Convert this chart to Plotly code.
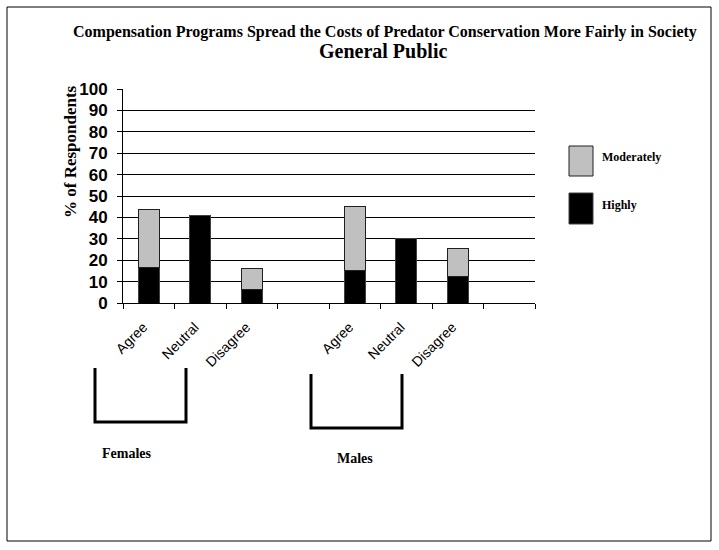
import plotly.graph_objects as go

# ---- data ----
slots = ["F-Agree", "F-Neutral", "F-Disagree", "gap1", "M-Agree", "M-Neutral", "M-Disagree", "gap2"]
tick_labels = ["Agree", "Neutral", "Disagree", "", "Agree", "Neutral", "Disagree", ""]
highly = [16.5, 41, 6.5, None, 15, 30, 12.5, None]
moderately = [27, None, 9.5, None, 30, None, 13, None]
group_labels = ["Females", "Males"]
title_line1 = "Compensation Programs Spread the Costs of Predator Conservation More Fairly in Society"
title_line2 = "General Public"
y_title = "% of Respondents"

# ---- layout constants (pixels) ----
W, H = 719, 550
L, R, T, B = 123, 535, 89, 303  # plot area in pixels

def px(x):
    return (x - L) / (R - L)

def py(y):
    return (B - y) / (B - T)

SERIF = "Liberation Serif"
SANS = "Liberation Sans"

fig = go.Figure()
fig.add_trace(go.Bar(x=slots, y=highly, name="Highly",
                     marker=dict(color="#000000", line=dict(color="#404040", width=1))))
fig.add_trace(go.Bar(x=slots, y=moderately, name="Moderately",
                     marker=dict(color="#C0C0C0", line=dict(color="#202020", width=1))))

shapes = []
# outer border
shapes.append(dict(type="rect", xref="paper", yref="paper",
                   x0=px(7), x1=px(711), y0=py(541), y1=py(7),
                   line=dict(color="black", width=1)))
# brackets
for (x0, x1, y0, y1) in [(95, 186, 368, 422), (311, 402, 374, 428)]:
    shapes.append(dict(type="path", xref="paper", yref="paper",
                       path=f"M {px(x0)} {py(y0)} L {px(x0)} {py(y1)} L {px(x1)} {py(y1)} L {px(x1)} {py(y0)}",
                       line=dict(color="black", width=3)))
# legend boxes
shapes.append(dict(type="rect", xref="paper", yref="paper",
                   x0=px(569), x1=px(593), y0=py(176), y1=py(146),
                   fillcolor="#C0C0C0", line=dict(color="#202020", width=1)))
shapes.append(dict(type="rect", xref="paper", yref="paper",
                   x0=px(569), x1=px(593), y0=py(224), y1=py(193),
                   fillcolor="#000000", line=dict(color="#404040", width=1)))

annotations = [
    dict(text=f"<b>{title_line1}</b>", x=px(385), y=py(32), xref="paper", yref="paper",
         showarrow=False, font=dict(family=SERIF, size=16, color="black"), xanchor="center", yanchor="middle"),
    dict(text=f"<b>{title_line2}</b>", x=px(383), y=py(51), xref="paper", yref="paper",
         showarrow=False, font=dict(family=SERIF, size=20, color="black"), xanchor="center", yanchor="middle"),
    dict(text=f"<b>{y_title}</b>", x=px(70), y=py(152), xref="paper", yref="paper", textangle=-90,
         showarrow=False, font=dict(family=SERIF, size=17, color="black"), xanchor="center", yanchor="middle"),
    dict(text=f"<b>{group_labels[0]}</b>", x=px(127), y=py(453), xref="paper", yref="paper",
         showarrow=False, font=dict(family=SERIF, size=14, color="black"), xanchor="center", yanchor="middle"),
    dict(text=f"<b>{group_labels[1]}</b>", x=px(355), y=py(458), xref="paper", yref="paper",
         showarrow=False, font=dict(family=SERIF, size=14, color="black"), xanchor="center", yanchor="middle"),
    dict(text="<b>Moderately</b>", x=px(600), y=py(157), xref="paper", yref="paper",
         showarrow=False, font=dict(family=SERIF, size=12, color="black"), xanchor="left", yanchor="middle"),
    dict(text="<b>Highly</b>", x=px(600), y=py(205), xref="paper", yref="paper",
         showarrow=False, font=dict(family=SERIF, size=12, color="black"), xanchor="left", yanchor="middle"),
]

# trailing non-breaking spaces nudge the rotated labels down-left like the original
tick_text_shown = [t + "\u00a0\u00a0" if t else t for t in tick_labels]

fig.update_layout(
    width=W, height=H,
    margin=dict(l=L, r=W - R, t=T, b=H - B, pad=0),
    paper_bgcolor="white", plot_bgcolor="white",
    barmode="stack", bargap=0.6,
    showlegend=False,
    shapes=shapes, annotations=annotations,
    xaxis=dict(type="category", categoryorder="array", categoryarray=slots,
               tickvals=slots, ticktext=tick_text_shown, tickangle=-45,
               tickson="boundaries", ticks="outside", ticklen=5, tickcolor="black",
               showline=True, linecolor="black", linewidth=1, showgrid=False,
               ticklabelstandoff=4,
               tickfont=dict(family=SANS, size=14, color="black")),
    yaxis=dict(range=[0, 100], dtick=10, tick0=0,
               showgrid=True, gridcolor="black", gridwidth=1,
               showline=True, linecolor="black", linewidth=1,
               ticks="outside", ticklen=5, tickcolor="black",
               zeroline=False,
               tickfont=dict(family=SANS, size=17, color="black", weight="bold"),
               ticklabelstandoff=6),
)

fig.write_html("out.html", config={"displayModeBar": False},
               post_script="document.body.style.margin='0px';")
